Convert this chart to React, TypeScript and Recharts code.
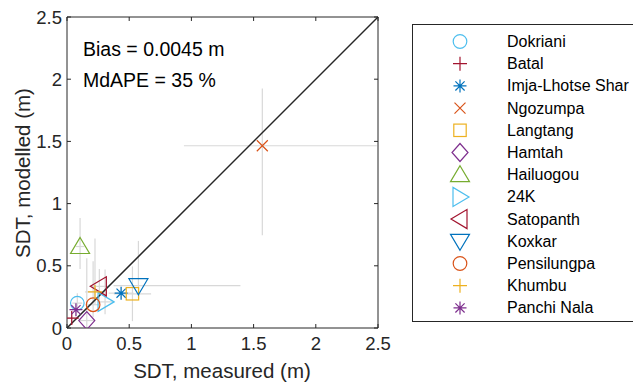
import React from 'react';
import { ScatterChart, Scatter, XAxis, YAxis, ErrorBar, ReferenceLine, Customized } from 'recharts';

const glaciers = ['Dokriani', 'Batal', 'Imja-Lhotse Shar', 'Ngozumpa', 'Langtang', 'Hamtah', 'Hailuogou', '24K', 'Satopanth', 'Koxkar', 'Pensilungpa', 'Khumbu', 'Panchi Nala'];
const measured = [0.083, 0.038, 0.435, 1.57, 0.526, 0.159, 0.105, 0.306, 0.26, 0.574, 0.21, 0.225, 0.072];
const modelled = [0.2, 0.08, 0.28, 1.465, 0.275, 0.06, 0.655, 0.21, 0.335, 0.34, 0.187, 0.29, 0.147];
const xErrLow = [0.04, 0.03, 0.1, 0.63, 0.15, 0.06, 0.035, 0.06, 0.08, 0.2, 0.05, 0.08, 0.03];
const xErrHigh = [0.04, 0.03, 0.1, 0.92, 0.15, 0.06, 0.035, 0.06, 0.08, 0.82, 0.05, 0.08, 0.03];
const yErrLow = [0.08, 0.05, 0.05, 0.72, 0.22, 0.06, 0.18, 0.1, 0.14, 0.1, 0.1, 0.1, 0.05];
const yErrHigh = [0.08, 0.05, 0.05, 0.46, 0.22, 0.5, 0.23, 0.26, 0.14, 0.36, 0.35, 0.43, 0.05];
const colors = ['#4DBEEE', '#A2142F', '#0072BD', '#D95319', '#EDB120', '#7E2F8E', '#77AC30', '#4DBEEE', '#A2142F', '#0072BD', '#D95319', '#EDB120', '#7E2F8E'];
const markers = ['circle', 'plus', 'asterisk', 'x', 'square', 'diamond', 'triUp', 'triRight', 'triLeft', 'triDown', 'circle', 'plus', 'asterisk'];
const axisTicks = [0, 0.5, 1, 1.5, 2, 2.5];
const axisMin = 0;
const axisMax = 2.5;
const biasText = 'Bias = 0.0045 m';
const mdapeText = 'MdAPE = 35 %';
const xLabel = 'SDT, measured (m)';
const yLabel = 'SDT, modelled (m)';

const FONT = '"Liberation Sans", Arial, Helvetica, sans-serif';
const AX = '#262626';
const TICK_LEN = 0.032;

function Glyph({ type, color, cx, cy }: { type: string; color: string; cx: number; cy: number }) {
  const p = { fill: 'none', stroke: color, strokeWidth: 1.2 };
  const t = `translate(${cx},${cy})`;
  switch (type) {
    case 'circle':
      return <circle cx={cx} cy={cy} r={6.8} {...p} />;
    case 'plus':
      return <path transform={t} d="M-7,0H7M0,-7V7" {...p} />;
    case 'asterisk':
      return <path transform={t} d="M-6.5,0H6.5M0,-6.5V6.5M-4.6,-4.6L4.6,4.6M-4.6,4.6L4.6,-4.6" {...p} />;
    case 'x':
      return <path transform={t} d="M-5.5,-5.5L5.5,5.5M-5.5,5.5L5.5,-5.5" {...p} />;
    case 'square':
      return <rect x={cx - 6.2} y={cy - 6.2} width={12.4} height={12.4} {...p} />;
    case 'diamond':
      return <path transform={t} d="M0,-9L8,0L0,9L-8,0Z" {...p} />;
    case 'triUp':
      return <path transform={t} d="M0,-9L9.5,7L-9.5,7Z" {...p} />;
    case 'triDown':
      return <path transform={t} d="M0,9L9.5,-7L-9.5,-7Z" {...p} />;
    case 'triRight':
      return <path transform={t} d="M9,0L-7,-9.5L-7,9.5Z" {...p} />;
    case 'triLeft':
      return <path transform={t} d="M-9,0L7,-9.5L7,9.5Z" {...p} />;
    default:
      return null;
  }
}

const seriesData = glaciers.map((name, i) => ({
  name,
  color: colors[i],
  marker: markers[i],
  data: [{ x: measured[i], y: modelled[i], ex: [xErrLow[i], xErrHigh[i]], ey: [yErrLow[i], yErrHigh[i]] }],
}));

function LegendBox() {
  const lx = 412;
  const ly = 24;
  return (
    <g>
      <rect x={lx + 0.5} y={ly + 0.5} width={240} height={297} fill="#fff" stroke={AX} strokeWidth={1} />
      {glaciers.map((g, i) => {
        const cy = ly + 17.5 + i * 22.2;
        return (
          <g key={g}>
            <Glyph type={markers[i]} color={colors[i]} cx={lx + 48} cy={cy} />
            <text x={lx + 95} y={cy} dominantBaseline="central" fontSize={16} fontFamily={FONT} fill="#000">
              {g}
            </text>
          </g>
        );
      })}
    </g>
  );
}

function Texts() {
  return (
    <g fontFamily={FONT} fill={AX}>
      <text x={83} y={49} fontSize={19.5} dominantBaseline="central" fill="#000">{biasText}</text>
      <text x={83} y={80} fontSize={19.5} dominantBaseline="central" fill="#000">{mdapeText}</text>
      <text x={222} y={370} fontSize={20.5} textAnchor="middle" dominantBaseline="central">{xLabel}</text>
      <text x={22} y={173} fontSize={20.5} textAnchor="middle" dominantBaseline="central" transform="rotate(-90,22,173)">{yLabel}</text>
    </g>
  );
}

export default function App() {
  const tickStyle = { fill: AX, fontSize: 18.5, fontFamily: FONT };
  return (
    <div style={{ position: 'absolute', left: 0, top: 0, width: 633, height: 385, overflow: 'hidden', background: '#fff' }}>
      <ScatterChart width={633} height={385} margin={{ top: 17, right: 255, bottom: 27, left: 27 }}>
        <XAxis
          dataKey="x"
          type="number"
          domain={[axisMin, axisMax]}
          ticks={axisTicks}
          interval={0}
          allowDataOverflow
          tickLine={false}
          tickSize={0}
          tickMargin={9}
          axisLine={{ stroke: AX }}
          tick={tickStyle}
          height={30}
        />
        <YAxis
          dataKey="y"
          type="number"
          domain={[axisMin, axisMax]}
          ticks={axisTicks}
          interval={0}
          allowDataOverflow
          tickLine={false}
          tickSize={0}
          tickMargin={5}
          axisLine={{ stroke: AX }}
          tick={tickStyle}
          width={40}
        />
        <ReferenceLine y={axisMax} stroke={AX} />
        <ReferenceLine x={axisMax} stroke={AX} />
        {axisTicks.map((t) => (
          <ReferenceLine key={`bx${t}`} segment={[{ x: t, y: axisMin }, { x: t, y: axisMin + TICK_LEN }]} stroke={AX} ifOverflow="visible" />
        ))}
        {axisTicks.map((t) => (
          <ReferenceLine key={`tx${t}`} segment={[{ x: t, y: axisMax }, { x: t, y: axisMax - TICK_LEN }]} stroke={AX} ifOverflow="visible" />
        ))}
        {axisTicks.map((t) => (
          <ReferenceLine key={`ly${t}`} segment={[{ x: axisMin, y: t }, { x: axisMin + TICK_LEN, y: t }]} stroke={AX} ifOverflow="visible" />
        ))}
        {axisTicks.map((t) => (
          <ReferenceLine key={`ry${t}`} segment={[{ x: axisMax, y: t }, { x: axisMax - TICK_LEN, y: t }]} stroke={AX} ifOverflow="visible" />
        ))}
        {seriesData.map((s) => (
          <Scatter
            key={s.name}
            name={s.name}
            data={s.data}
            isAnimationActive={false}
            shape={(p: any) => <Glyph type={s.marker} color={s.color} cx={p.cx} cy={p.cy} />}
          >
            <ErrorBar dataKey="ex" direction="x" width={0} stroke="#d8d8d8" strokeWidth={1.2} isAnimationActive={false} />
            <ErrorBar dataKey="ey" direction="y" width={0} stroke="#d8d8d8" strokeWidth={1.2} isAnimationActive={false} />
          </Scatter>
        ))}
        <ReferenceLine segment={[{ x: axisMin, y: axisMin }, { x: axisMax, y: axisMax }]} stroke={AX} strokeWidth={1.5} />
        <Customized component={<Texts />} />
        <Customized component={<LegendBox />} />
      </ScatterChart>
    </div>
  );
}
